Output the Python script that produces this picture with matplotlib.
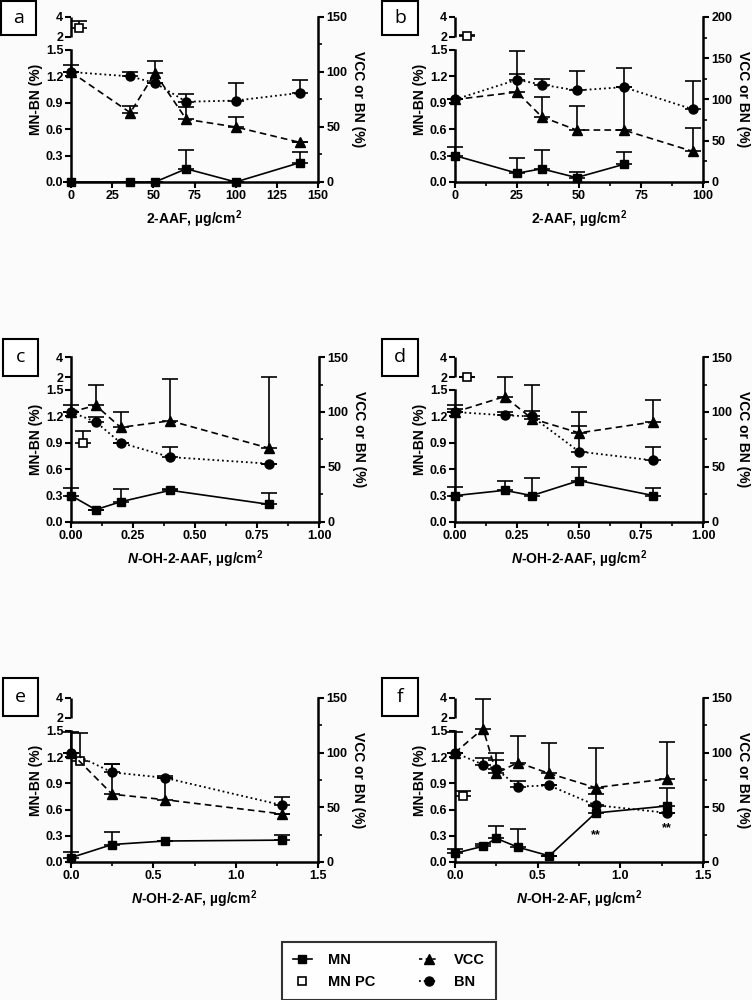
import numpy as np
import matplotlib
matplotlib.use('Agg')
import matplotlib.pyplot as plt
from matplotlib.patches import Rectangle
from matplotlib.lines import Line2D
from matplotlib.transforms import blended_transform_factory

plt.rcParams['font.family'] = ['Liberation Sans', 'DejaVu Sans']
plt.rcParams['font.weight'] = 'bold'
plt.rcParams['mathtext.fontset'] = 'custom'
plt.rcParams['mathtext.rm'] = 'Liberation Sans:bold'
plt.rcParams['mathtext.it'] = 'Liberation Sans:italic:bold'
plt.rcParams['mathtext.bf'] = 'Liberation Sans:bold'

# ---------------- data ----------------
# panel a : 2-AAF
a_dose = [0, 36, 51, 70, 100, 139]
a_mn = [0, 0, 0, 0.15, 0, 0.22]
a_mn_err = [0, 0, 0, 0.21, 0, 0.12]
a_vcc = [100, 63, 99, 57, 50, 36]
a_vcc_err = [6, 6, 11, 11, 9, 0]
a_bn = [100, 96, 90, 73, 74, 81]
a_bn_err = [0, 4, 0, 7, 16, 12]
a_pc_dose = [5]
a_pc = [2.9]
a_pc_err = [0.7]

# panel b : 2-AAF
b_dose = [0, 25, 35, 49, 68, 96]
b_mn_dose = [0, 25, 35, 49, 68]
b_mn = [0.3, 0.1, 0.15, 0.05, 0.2]
b_mn_err = [0.1, 0.17, 0.21, 0.06, 0.14]
b_vcc = [100, 109, 79, 63, 63, 37]
b_vcc_err = [0, 50, 24, 29, 52, 28]
b_bn = [100, 124, 118, 111, 115, 88]
b_bn_err = [0, 7, 7, 23, 23, 34]
b_pc_dose = [5]
b_pc = [2.1]
b_pc_err = [0.05]

# panel c : N-OH-2-AAF
c_dose = [0, 0.1, 0.2, 0.4, 0.8]
c_mn = [0.3, 0.14, 0.23, 0.36, 0.2]
c_mn_err = [0.09, 0, 0.15, 0.01, 0.13]
c_vcc = [100, 106, 86, 92, 67]
c_vcc_err = [6, 19, 14, 38, 65]
c_bn = [100, 91, 72, 59, 53]
c_bn_err = [0, 4, 0, 9, 0]
c_pc_dose = [0.05]
c_pc = [0.9]
c_pc_err = [0.13]

# panel d : N-OH-2-AAF
d_dose = [0, 0.2, 0.31, 0.5, 0.8]
d_mn = [0.3, 0.36, 0.3, 0.47, 0.3]
d_mn_err = [0.1, 0.11, 0.2, 0.15, 0.09]
d_vcc = [100, 114, 94, 81, 91]
d_vcc_err = [6, 18, 31, 19, 20]
d_bn = [100, 97, 96, 64, 56]
d_bn_err = [3, 3, 5, 23, 12]
d_pc_dose = [0.05]
d_pc = [2.0]
d_pc_err = [0]

# panel e : N-OH-2-AF
e_dose = [0, 0.25, 0.57, 1.28]
e_mn = [0.05, 0.2, 0.24, 0.25]
e_mn_err = [0.07, 0.14, 0, 0.06]
e_vcc = [100, 62, 57, 44]
e_vcc_err = [19, 28, 20, 0]
e_bn = [100, 82, 77, 52]
e_bn_err = [0, 8, 2, 7]
e_pc_dose = [0.055]
e_pc = [1.15]
e_pc_err = [0.33]

# panel f : N-OH-2-AF
f_dose = [0, 0.17, 0.25, 0.38, 0.57, 0.85, 1.28]
f_mn = [0.1, 0.18, 0.27, 0.17, 0.07, 0.56, 0.64]
f_mn_err = [0.05, 0.03, 0.14, 0.21, 0, 0.08, 0.21]
f_vcc = [100, 122, 81, 91, 81, 68, 76]
f_vcc_err = [19, 27, 19, 24, 28, 36, 34]
f_bn = [100, 89, 85, 69, 70, 52, 45]
f_bn_err = [0, 6, 8, 5, 0, 10, 0]
f_pc_dose = [0.05]
f_pc = [0.75]
f_pc_err = [0.06]
f_sig = [5, 6]

left_ticks = [0, 0.3, 0.6, 0.9, 1.2, 1.5, 2, 4]
left_ticklabels = ['0.0', '0.3', '0.6', '0.9', '1.2', '1.5', '2', '4']

# ---------------- broken left scale ----------------
LOW_TOP = 1.5
BRK = 2.0
GAP = 13 / 88
S_UP = 10 / 88


def fwd(v):
    v = np.asarray(v, dtype=float)
    return np.where(v <= LOW_TOP, v,
                    np.where(v < BRK, LOW_TOP + (v - LOW_TOP) / (BRK - LOW_TOP) * GAP,
                             LOW_TOP + GAP + (v - BRK) * S_UP))


def inv(u):
    u = np.asarray(u, dtype=float)
    return np.where(u <= LOW_TOP, u,
                    np.where(u < LOW_TOP + GAP, LOW_TOP + (u - LOW_TOP) / GAP * (BRK - LOW_TOP),
                             BRK + (u - LOW_TOP - GAP) / S_UP))


W, H = 752, 1000
fig = plt.figure(figsize=(W / 100, H / 100), dpi=100)
fig.patch.set_facecolor('#fbfbfb')

LW = 1.8
TICK_FS = 9
LAB_FS = 10


def panel(rect, letter, boxrect, dose, mn_dose, mn, mn_err, vcc, vcc_err, bn, bn_err,
          pc_dose, pc, pc_err, xlim, xticks, xticklabels, xminor, xlabel, rmax,
          rticks, rminor, sig=None, joined=False):
    l, t, r, b = rect
    ax = fig.add_axes([l / W, 1 - b / H, (r - l) / W, (b - t) / H])
    ax.set_facecolor('none')
    ax.set_yscale('function', functions=(fwd, inv))
    ax.set_ylim(0, 4)
    ax.set_xlim(*xlim)
    ax2 = ax.twinx()
    ax2.set_ylim(0, rmax)

    for s in ['top', 'right']:
        ax.spines[s].set_visible(False)
    for s in ['top', 'left', 'bottom']:
        ax2.spines[s].set_visible(False)
    for s in ['left', 'bottom']:
        ax.spines[s].set_linewidth(LW)
    ax2.spines['right'].set_linewidth(LW)
    if not joined:
        ax.spines['left'].set_bounds(0, LOW_TOP)
        tr = blended_transform_factory(ax.transAxes, ax.transData)
        ax.plot([0, 0], [BRK, 4], transform=tr, color='black', lw=LW,
                clip_on=False, solid_capstyle='butt')

    ax.set_yticks(left_ticks)
    ax.set_yticklabels(left_ticklabels)
    ax.yaxis.set_minor_locator(matplotlib.ticker.NullLocator())
    ax.set_xticks(xticks)
    ax.set_xticklabels(xticklabels)
    if xminor:
        ax.set_xticks(xminor, minor=True)
    ax.tick_params(axis='both', which='major', direction='out', length=4,
                   width=1.5, labelsize=TICK_FS, pad=1.5)
    ax.tick_params(axis='x', which='minor', direction='out', length=3, width=1.2)
    ax2.set_yticks(rticks)
    ax2.set_yticks(rminor, minor=True)
    ax2.tick_params(axis='y', which='major', direction='out', length=4,
                    width=1.5, labelsize=TICK_FS, pad=2)
    ax2.tick_params(axis='y', which='minor', direction='out', length=3, width=1.2)

    ek = dict(capsize=6, elinewidth=1.2, capthick=1.2, color='black',
              clip_on=False, zorder=3)
    # MN
    ax.errorbar(mn_dose, mn, yerr=[np.zeros(len(mn_err)), mn_err], fmt='-',
                marker='s', ms=5.5, lw=1.2, **ek)
    # MN positive control
    ax.errorbar(pc_dose, pc, yerr=[np.zeros(len(pc_err)), pc_err], fmt='none',
                **ek)
    ax.plot(pc_dose, pc, ls='none', marker='s', ms=6, mfc='white', mec='black',
            mew=1.2, clip_on=False, zorder=4)
    # VCC
    ax2.errorbar(dose, vcc, yerr=[np.zeros(len(vcc_err)), vcc_err], fmt='--',
                 marker='^', ms=7, lw=1.2, dashes=(4, 2.5), **ek)
    # BN
    ax2.errorbar(dose, bn, yerr=[np.zeros(len(bn_err)), bn_err], fmt=':',
                 marker='o', ms=6.5, lw=1.3, **ek)
    if sig:
        for i in sig:
            ax.annotate('**', (mn_dose[i], mn[i]), xytext=(0, -16),
                        textcoords='offset points', ha='center', va='center',
                        fontsize=9, fontweight='bold')

    ax.set_xlabel(xlabel, fontsize=LAB_FS, fontweight='bold', labelpad=5)
    ax.set_ylabel('MN-BN (%)', fontsize=LAB_FS, fontweight='bold', labelpad=2)
    ax2.set_ylabel('VCC or BN (%)', fontsize=LAB_FS, fontweight='bold',
                   rotation=270, labelpad=13)

    bx0, by0, bx1, by1 = boxrect
    fig.patches.append(Rectangle((bx0 / W, 1 - by1 / H), (bx1 - bx0) / W,
                                 (by1 - by0) / H, transform=fig.transFigure,
                                 facecolor='white', edgecolor='black', lw=1.5))
    fig.text((bx0 + bx1) / 2 / W, 1 - (by0 + by1) / 2 / H, letter,
             ha='center', va='center', fontsize=14, fontweight='normal',
             family=['Open Sans', 'DejaVu Sans'])
    return ax


xl_aaf = '2-AAF, µg/cm$^2$'
xl_ohaaf = '$\\mathit{N}$-OH-2-AAF, µg/cm$^2$'
xl_ohaf = '$\\mathit{N}$-OH-2-AF, µg/cm$^2$'

ticks01 = [0, 0.25, 0.5, 0.75, 1.0]
lab01 = ['0.00', '0.25', '0.50', '0.75', '1.00']
minor01 = [0.125, 0.375, 0.625, 0.875]
ticks15 = [0, 0.5, 1.0, 1.5]
lab15 = ['0.0', '0.5', '1.0', '1.5']
minor15 = [0.25, 0.75, 1.25]

panel((71, 17, 318, 182), 'a', (1, 1, 36, 35), a_dose, a_dose, a_mn, a_mn_err,
      a_vcc, a_vcc_err, a_bn, a_bn_err, a_pc_dose, a_pc, a_pc_err,
      (0, 150), [0, 25, 50, 75, 100, 125, 150],
      ['0', '25', '50', '75', '100', '125', '150'], None, xl_aaf,
      150, [0, 50, 100, 150], [25, 75, 125])

panel((455, 17, 703, 182), 'b', (382, 1, 418, 35), b_dose, b_mn_dose, b_mn,
      b_mn_err, b_vcc, b_vcc_err, b_bn, b_bn_err, b_pc_dose, b_pc, b_pc_err,
      (0, 100), [0, 25, 50, 75, 100], ['0', '25', '50', '75', '100'],
      [12.5, 37.5, 62.5, 87.5], xl_aaf,
      200, [0, 50, 100, 150, 200], [25, 75, 125, 175])

panel((71, 357, 319, 522), 'c', (3, 339, 38, 376), c_dose, c_dose, c_mn,
      c_mn_err, c_vcc, c_vcc_err, c_bn, c_bn_err, c_pc_dose, c_pc, c_pc_err,
      (0, 1), ticks01, lab01, minor01, xl_ohaaf,
      150, [0, 50, 100, 150], [25, 75, 125], joined=True)

panel((455, 357, 703, 522), 'd', (382, 339, 418, 376), d_dose, d_dose, d_mn,
      d_mn_err, d_vcc, d_vcc_err, d_bn, d_bn_err, d_pc_dose, d_pc, d_pc_err,
      (0, 1), ticks01, lab01, minor01, xl_ohaaf,
      150, [0, 50, 100, 150], [25, 75, 125])

panel((71, 698, 318, 862), 'e', (3, 678, 38, 716), e_dose, e_dose, e_mn,
      e_mn_err, e_vcc, e_vcc_err, e_bn, e_bn_err, e_pc_dose, e_pc, e_pc_err,
      (0, 1.5), ticks15, lab15, minor15, xl_ohaf,
      150, [0, 50, 100, 150], [25, 75, 125])

panel((455, 698, 703, 862), 'f', (382, 678, 418, 716), f_dose, f_dose, f_mn,
      f_mn_err, f_vcc, f_vcc_err, f_bn, f_bn_err, f_pc_dose, f_pc, f_pc_err,
      (0, 1.5), ticks15, lab15, minor15, xl_ohaf,
      150, [0, 50, 100, 150], [25, 75, 125], sig=f_sig)

handles = [
    Line2D([], [], color='black', ls='-', lw=1.2, marker='s', ms=5.5),
    Line2D([], [], color='black', ls='none', marker='s', ms=6, mfc='white', mew=1.2),
    Line2D([], [], color='black', ls='--', lw=1.2, marker='^', ms=7, dashes=(2, 2)),
    Line2D([], [], color='black', ls=':', lw=1.3, marker='o', ms=6.5),
]
labels = ['MN', 'MN PC', 'VCC', 'BN']
leg = fig.legend(handles, labels, ncol=2, loc='center',
                 bbox_to_anchor=((277 + 501) / 2 / W, 1 - (944 + 998) / 2 / H),
                 frameon=True, fancybox=False, edgecolor='black',
                 handlelength=1.3, columnspacing=3.0, handletextpad=1.1,
                 labelspacing=0.55, borderpad=0.75, borderaxespad=0,
                 prop={'weight': 'bold', 'size': 10.5})
leg.get_frame().set_linewidth(1.5)
leg.get_frame().set_facecolor('white')

fig.savefig('out.png', dpi=100, facecolor=fig.get_facecolor())
